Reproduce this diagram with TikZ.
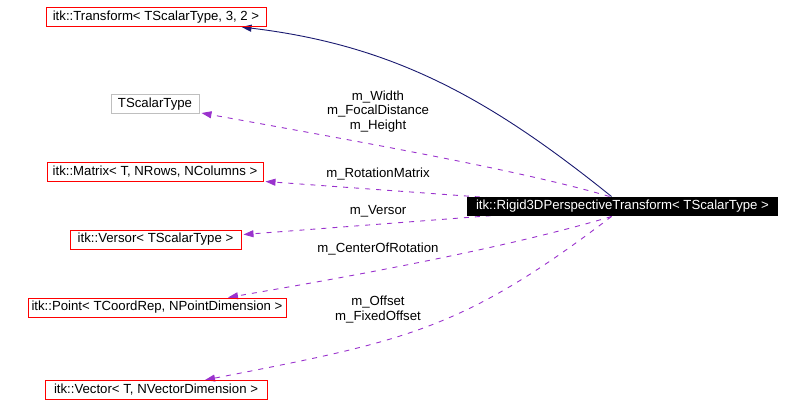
\documentclass[tikz,border=0pt]{standalone}
\usepackage{fontspec}
\setmainfont{Liberation Sans}
\usetikzlibrary{arrows.meta,calc}
\pgfdeclarelayer{background}
\pgfsetlayers{background,main}
\definecolor{boxred}{HTML}{FF0000}
\definecolor{boxgrey}{HTML}{BFBFBF}
\definecolor{inhblue}{HTML}{191970}
\definecolor{usepurple}{HTML}{9A32CD}
\tikzset{
  cls/.style={draw=boxred, line width=1pt, inner xsep=2pt, inner ysep=0pt,
    minimum height=19pt, text height=9.5pt, text depth=2.8pt,
    font=\fontsize{13.2}{14.7}\selectfont},
  clsgrey/.style={cls, draw=boxgrey},
  clsmain/.style={cls, draw=none, fill=black, text=white},
  lbl/.style={inner sep=0pt, align=center, font=\fontsize{13.2}{14.7}\selectfont},
  inh/.style={draw=inhblue, line width=0.9pt,
    -{Triangle[length=10pt,width=7pt]}, fill=none},
  uses/.style={draw=usepurple, line width=0.9pt, dash pattern=on 5pt off 6pt,
    -{Triangle[length=10pt,width=7pt]}, fill=none},
}
\begin{document}
\begin{tikzpicture}[x=1pt,y=-1pt]
\useasboundingbox (0,0) rectangle (801,417);
% nodes
\node[cls, minimum width=220pt] (transform) at (156,17) {itk::Transform< TScalarType, 3, 2 >};
\node[clsgrey, minimum width=88pt] (tscalar) at (155,104) {TScalarType};
\node[cls, minimum width=216pt] (matrix) at (155,172.5) {itk::Matrix< T, NRows, NColumns >};
\node[cls, minimum width=171pt] (versor) at (155.5,239.5) {itk::Versor< TScalarType >};
\node[clsmain, minimum width=311pt] (rigid) at (622.5,206.5) {itk::Rigid3DPerspectiveTransform< TScalarType >};
\node[cls, minimum width=258pt] (point) at (157,307.5) {itk::Point< TCoordRep, NPointDimension >};
\node[cls, minimum width=222pt] (vector) at (156,390) {itk::Vector< T, NVectorDimension >};
% labels
\node[lbl] (lwfh) at (378,111.3) {m\_Width\\m\_FocalDistance\\m\_Height};
\node[lbl] (lrot) at (378,174) {m\_RotationMatrix};
\node[lbl] (lver) at (378,211) {m\_Versor};
\node[lbl] (lcen) at (378,249) {m\_CenterOfRotation};
\node[lbl] (loff) at (378,309.7) {m\_Offset\\m\_FixedOffset};
% ports
\coordinate (hub) at ($(rigid.west)+(145,0)$);
\coordinate (rtop) at ($(rigid.north west)+(145,0)$);
\coordinate (rtop2) at ($(rigid.north west)+(143,0)$);
\coordinate (rbot) at ($(rigid.south west)+(145,0)$);
\coordinate (tT) at ($(transform.south west)+(196,0)$);
\coordinate (tS) at ($(tscalar.south east)+(2,-1)$);
\coordinate (tM) at ($(matrix.south east)+(2,-1)$);
\coordinate (tV) at ($(versor.north east)+(2,5)$);
\coordinate (tP) at ($(point.north)+(71,0)$);
\coordinate (tVec) at ($(vector.north)+(49,0)$);
\begin{pgfonlayer}{background}
\draw[inh] (rtop) .. controls (488,97) and (392,45) .. (tT);
\draw[uses] (rtop2) .. controls (520,170) and (350,140) .. (tS);
\draw[uses] (hub) -- (tM);
\draw[uses] (hub) -- (tV);
\draw[uses] (rbot) .. controls (500,250) and (330,280) .. (tP);
\draw[uses] (rbot) .. controls (462,330.5) and (405,341) .. (tVec);
\end{pgfonlayer}
\end{tikzpicture}
\end{document}
